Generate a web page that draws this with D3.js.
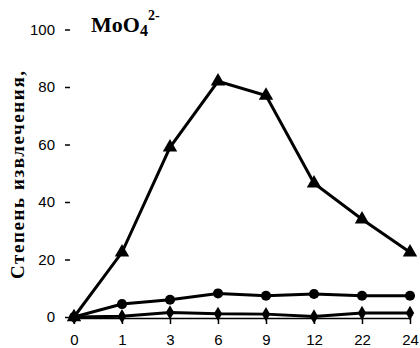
<!DOCTYPE html>
<html>
<head>
<meta charset="utf-8">
<script src="https://cdn.jsdelivr.net/npm/d3@7"></script>
<style>
    body { margin: 0; background: #fff; }
    .axis text { font-family: "Liberation Sans", Arial, sans-serif; font-size: 15px; fill: #000; }
    .axis line, .axis path { stroke: #000; stroke-width: 1.5; }
</style>
</head>
<body>
<div id="chart"></div>
<script>
const hours = ['0', '1', '3', '6', '9', '12', '22', '24'];
const y_ticks = [0, 20, 40, 60, 80, 100];
const series_top = [0, 22.5, 59, 82, 77, 46.5, 34, 22.5];
const series_mid = [0, 4.5, 6, 8.2, 7.4, 8, 7.4, 7.4];
const series_low = [0, 0.3, 1.6, 1.1, 1, 0.2, 1.4, 1.4];

const chart_width = 420;
const chart_height = 348;

const svg = d3.select('#chart')
    .append('svg')
    .attr('width', chart_width)
    .attr('height', chart_height);

// Scales
const x_scale = d3.scalePoint()
    .domain(hours)
    .range([74, 410]);

const y_scale = d3.scaleLinear()
    .domain([0, 100])
    .range([317, 29.5]);

// Axes
const x_axis = d3.axisBottom(x_scale)
    .tickSize(6)
    .tickSizeOuter(0)
    .tickPadding(10);

svg.append('g')
    .classed('axis', true)
    .attr('transform', `translate(0, ${y_scale(0) + 1})`)
    .call(x_axis);

const y_axis = d3.axisLeft(y_scale)
    .tickValues(y_ticks)
    .tickSize(5)
    .tickPadding(10);

svg.append('g')
    .classed('axis', true)
    .attr('transform', 'translate(70, 0)')
    .call(y_axis)
    .call(g => g.select('.domain').remove());

// Lines
const line = d3.line()
    .x((d, i) => x_scale(hours[i]))
    .y(d => y_scale(d));

const all_series = [
    { values: series_low, symbol: d3.symbolDiamond, size: 60 },
    { values: series_mid, symbol: d3.symbolCircle, size: 80 },
    { values: series_top, symbol: d3.symbolTriangle, size: 90 },
];

all_series.forEach(s => {
    svg.append('path')
        .datum(s.values)
        .attr('d', line)
        .attr('fill', 'none')
        .attr('stroke', '#000')
        .attr('stroke-width', 3);

    svg.append('g')
        .selectAll('path')
        .data(s.values)
        .enter()
        .append('path')
        .attr('transform', (d, i) => `translate(${x_scale(hours[i])}, ${y_scale(d)})`)
        .attr('d', d3.symbol().type(s.symbol).size(s.size))
        .attr('fill', '#000');
});

// Y label
svg.append('text')
    .attr('transform', 'translate(24, 175) rotate(-90)')
    .attr('text-anchor', 'middle')
    .attr('font-family', '"Liberation Serif", "Times New Roman", serif')
    .attr('font-weight', 'bold')
    .attr('font-size', 19)
    .attr('textLength', 208)
    .attr('lengthAdjust', 'spacing')
    .text('Степень извлечения,');

// Title
const title = svg.append('text')
    .attr('x', 91)
    .attr('y', 32)
    .attr('font-family', '"Liberation Serif", "Times New Roman", serif')
    .attr('font-weight', 'bold')
    .attr('font-size', 22);
title.append('tspan').text('MoO');
title.append('tspan').attr('font-size', 16).attr('dy', 4).text('4');
title.append('tspan').attr('font-size', 14).attr('dy', -16).text('2-');
</script>
</body>
</html>
